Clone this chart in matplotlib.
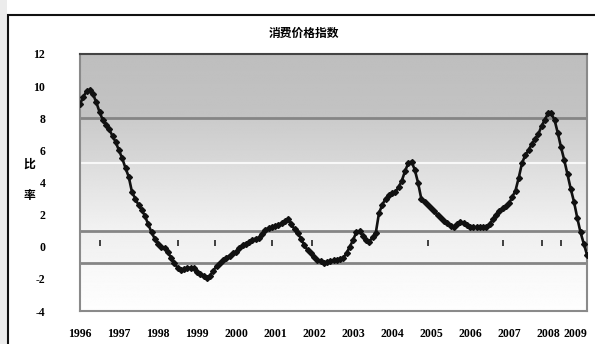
import numpy as np
import matplotlib
matplotlib.use('Agg')
import matplotlib.pyplot as plt
from matplotlib.patches import Rectangle

plt.rcParams['font.family'] = ['Noto Sans CJK SC', 'DejaVu Sans']

# monthly CPI, year-on-year %, Jan 1996 .. Jan 2009
cpi = [8.9, 9.3, 9.7, 9.75, 9.5, 9.0, 8.4, 7.9, 7.6, 7.3, 6.9, 6.5,
       6.0, 5.5, 4.9, 4.35, 3.4, 3.0, 2.6, 2.3, 1.9, 1.4, 0.9, 0.5,
       0.2, 0.0, -0.1, -0.3, -0.7, -1.0, -1.3, -1.45, -1.4, -1.35, -1.3, -1.35,
       -1.55, -1.7, -1.8, -1.95, -1.8, -1.5, -1.2, -1.0, -0.85, -0.7, -0.55, -0.4,
       -0.3, -0.1, 0.1, 0.2, 0.3, 0.45, 0.5, 0.55, 0.8, 1.05, 1.15, 1.2,
       1.3, 1.35, 1.45, 1.6, 1.7, 1.4, 1.1, 0.85, 0.5, 0.1, -0.2, -0.4,
       -0.65, -0.8, -0.9, -1.0, -0.95, -0.9, -0.85, -0.8, -0.75, -0.7, -0.4, 0.0,
       0.4, 0.9, 0.95, 0.7, 0.4, 0.3, 0.6, 0.85, 2.1, 2.6, 3.0, 3.2,
       3.35, 3.4, 3.7, 4.1, 4.7, 5.2, 5.3, 4.8, 4.0, 3.0, 2.8, 2.6,
       2.4, 2.2, 2.0, 1.8, 1.6, 1.5, 1.3, 1.2, 1.4, 1.55, 1.5, 1.35,
       1.25, 1.2, 1.2, 1.2, 1.2, 1.2, 1.4, 1.7, 2.0, 2.2, 2.4, 2.55,
       2.7, 3.1, 3.5, 4.3, 5.2, 5.7, 6.0, 6.4, 6.7, 7.0, 7.5, 7.9,
       8.3, 8.3, 7.9, 7.1, 6.2, 5.4, 4.5, 3.6, 2.8, 1.8, 0.9, 0.2,
       -0.5]
years = [str(y) for y in range(1996, 2010)]
yticks = [12, 10, 8, 6, 4, 2, 0, -2, -4]
ref_lines = [8, 1, -1]
# stray short marks sitting just above zero (month index)
stub_months = [6, 30, 41.5, 59, 71.5, 107, 130, 142, 148]
stub_level = 0.25

x = np.arange(len(cpi))

fig = plt.figure(figsize=(5.95, 3.44), dpi=100)
fig.patch.set_facecolor('white')
fig.patches.append(Rectangle((0, 0), 7/595, 1, transform=fig.transFigure,
                             facecolor='#ececec', edgecolor='none', zorder=0))
fig.patches.append(Rectangle((7.5/595, -0.05), 1.1, 1 - 15/344 + 0.05, transform=fig.transFigure,
                             facecolor='none', edgecolor='#111111', lw=1.5, zorder=1))

ax = fig.add_axes([80/595, 1 - 311/344, 507/595, 257/344])
ax.set_xlim(0, 156)
ax.set_ylim(-4, 12)

# grey-to-white plot background
yy = np.linspace(12, -4, 400)
shade = np.interp(yy, [-4, -1, -0.99, 1, 1.01, 5.2, 5.3, 8, 8.01, 12],
                  [0.995, 0.97, 0.96, 0.935, 0.95, 0.865, 0.845, 0.795, 0.765, 0.745])
ax.imshow(np.repeat(shade[:, None], 2, axis=1), cmap='gray', vmin=0, vmax=1,
          extent=[0, 156, -4, 12], aspect='auto', zorder=0, interpolation='bilinear')

for v in ref_lines:
    ax.axhline(v, color='#858585', lw=2, zorder=1)
ax.axhline(5.2, color='#f8f8f8', lw=1.5, zorder=1)

ax.plot(stub_months, [stub_level] * len(stub_months), ls='none', marker='|',
        ms=5, mew=1.2, color='#222222', zorder=2)
ax.plot(x, cpi, color='#111111', lw=1.9, marker='D', ms=3, mfc='#111111',
        mec='#111111', zorder=3)

for s in ['left', 'right', 'bottom']:
    ax.spines[s].set_color('#8a8a8a')
    ax.spines[s].set_linewidth(1.5)
ax.spines['top'].set_color('#444444')
ax.spines['top'].set_linewidth(1.5)

ax.set_yticks(yticks)
ax.set_yticklabels([str(v) for v in yticks], family='Liberation Serif',
                   fontweight='bold', fontsize=8.5)
ax.tick_params(axis='y', length=0, pad=25)
ax.set_xticks(np.arange(0, 157, 12))
ax.set_xticklabels(years, family='Liberation Serif', fontweight='bold', fontsize=8.5)
ax.tick_params(axis='x', length=0, pad=12)
ax.get_xticklabels()[-1].set_horizontalalignment('right')

fig.text(304/595, 1 - 33/344, '消费价格指数', ha='center', va='center',
         fontsize=8.5, fontweight='bold')
fig.text(29/595, 1 - 164/344, '比', ha='center', va='center', fontsize=8.5, fontweight='bold')
fig.text(29/595, 1 - 195/344, '率', ha='center', va='center', fontsize=8.5, fontweight='bold')

fig.savefig('out.png', dpi=100)
